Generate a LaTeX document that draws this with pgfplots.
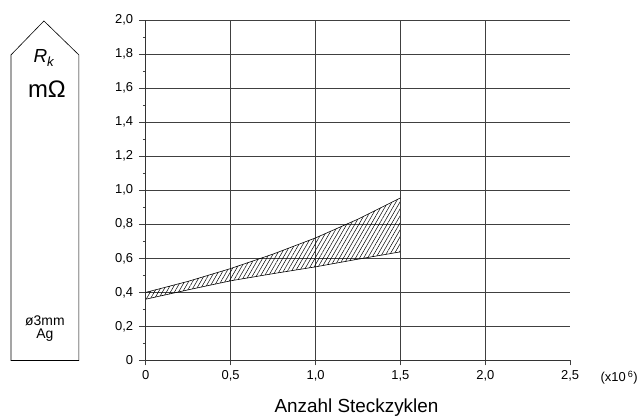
\documentclass[border=0pt]{standalone}
\usepackage{fontspec}
\setmainfont{Liberation Sans}
\usepackage{pgfplots}
\pgfplotsset{compat=1.18}
\usepgfplotslibrary{fillbetween}
\usetikzlibrary{patterns.meta}

\pgfplotstableread{
x     y
0     0.400
0.25  0.465
0.5   0.540
0.75  0.625
1.0   0.720
1.25  0.830
1.5   0.955
}\uppertab
\pgfplotstableread{
x     y
0     0.360
0.25  0.415
0.5   0.468
0.75  0.510
1.0   0.550
1.25  0.595
1.5   0.638
}\lowertab

\begin{document}
\begin{tikzpicture}
\path (0,0) rectangle (641bp,419bp);
\begin{axis}[
  at={(146bp,58bp)}, anchor=south west,
  scale only axis, width=425bp, height=341bp,
  xmin=0, xmax=2.5, ymin=0, ymax=2,
  axis x line*=bottom, axis y line*=left,
  axis line style={black!80, line width=0.6bp},
  xtick={0,0.5,1,1.5,2},
  xticklabels={0,{0,5},{1,0},{1,5},{2,0}},
  extra x ticks={2.5}, extra x tick labels={2{,}5},
  extra x tick style={grid=none},
  ytick={0,0.2,0.4,0.6,0.8,1.0,1.2,1.4,1.6,1.8,2.0},
  yticklabels={0,{0,2},{0,4},{0,6},{0,8},{1,0},{1,2},{1,4},{1,6},{1,8},{2,0}},
  minor y tick num=1,
  grid=major,
  major grid style={black!75, line width=0.6bp},
  tick align=outside,
  tick style={black!75, line width=0.6bp},
  x tick style={/pgfplots/major tick length=5bp},
  y tick style={/pgfplots/major tick length=7bp},
  minor tick length=3bp,
  ticklabel style={font=\fontsize{13}{15}\selectfont},
  yticklabel style={xshift=-5bp},
  xticklabel style={yshift=-2bp},
  clip=false,
]
\addplot[name path=up, black, line width=0.6bp] table {\uppertab};
\addplot[name path=lo, black, line width=0.6bp] table {\lowertab};
\addplot[draw=none, pattern={Lines[angle=60,distance=3.5bp,line width=0.5bp]}, pattern color=black]
  fill between[of=up and lo];
\end{axis}
\draw[line width=0.6bp] (11bp,58bp) -- (11bp,364bp) -- (44bp,398bp) -- (79bp,364bp) -- (79bp,58bp) -- cycle;
\node at (44bp,361bp) {\fontsize{19}{22}\selectfont\itshape R\textsubscript{k}};
\node at (47bp,330bp) {\fontsize{24}{26}\selectfont mΩ};
\node[align=center, font=\fontsize{14}{13}\selectfont] at (45bp,90bp) {ø3mm\\Ag};
\node at (357bp,11bp) {\fontsize{19}{22}\selectfont Anzahl Steckzyklen};
\node at (620bp,41bp) {\fontsize{13}{15}\selectfont (x10\,\textsuperscript{6})};
\end{tikzpicture}
\end{document}
